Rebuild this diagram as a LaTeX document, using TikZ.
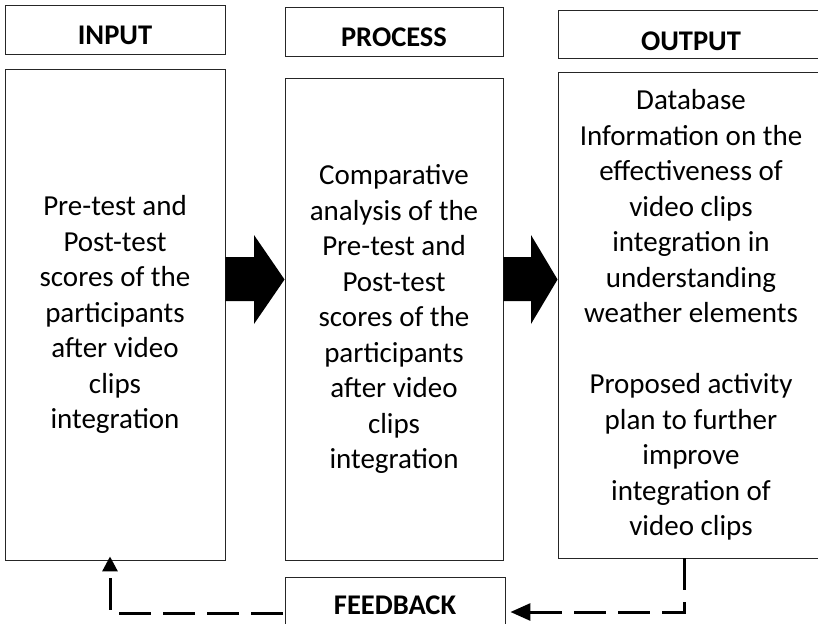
\documentclass[tikz,border=0pt]{standalone}
\usepackage{fontspec}
\setmainfont{Carlito}
\usetikzlibrary{arrows.meta,calc}
\begin{document}
\begin{tikzpicture}[x=1pt,y=-1pt,
  box/.style={draw=black!85, line width=0.9pt, inner sep=0pt, align=center,
              font=\fontsize{29}{35.5}\selectfont},
  hdr/.style={font=\bfseries\fontsize{28.5}{34}\selectfont, inner sep=0pt},
  fb/.style={line width=3pt, dash pattern=on 32pt off 12pt},
  blockarrow/.style={fill=black}]
\useasboundingbox (0,0) rectangle (818,623);
\clip (0,0) rectangle (818,623);
% headers
\node[box, minimum width=220, minimum height=49] (inhdr) at (115,29.5) {};
\node[hdr] (inlbl) at (115,35) {INPUT};
\node[box, minimum width=218, minimum height=49] (prhdr) at (394,31.5) {};
\node[hdr] (prlbl) at (394,37.5) {PROCESS};
\node[box, minimum width=266, minimum height=48] (outhdr) at (691,34) {};
\node[hdr] (outlbl) at (691,41) {OUTPUT};
% main boxes
\node[box, minimum width=220, minimum height=491] (inmain) at (115,314.5)
  {Pre-test and\\Post-test\\scores of the\\participants\\after video\\clips\\integration};
\node[box, minimum width=218, minimum height=482] (prmain) at (394,319)
  {Comparative\\analysis of the\\Pre-test and\\Post-test\\scores of the\\participants\\after video\\clips\\integration};
\node[box, minimum width=266, minimum height=486] (outmain) at (691,315)
  {Database\\Information on the\\effectiveness of\\video clips\\integration in\\understanding\\weather elements\\[35.5pt]Proposed activity\\plan to further\\improve\\integration of\\video clips};
% feedback
\node[box, minimum width=220, minimum height=60] (fbbox) at (395,607) {};
\node[hdr] (fblbl) at (395,605) {FEEDBACK};
% block arrows
\fill[blockarrow] (inmain.east |- 0,257) -- (254,257) -- (254,235) -- (prmain.west |- 0,279.5)
  -- (254,324) -- (254,301) -- (inmain.east |- 0,301) -- cycle;
\fill[blockarrow] (prmain.east |- 0,257) -- (531,257) -- (531,235) -- (outmain.west |- 0,279.5)
  -- (531,324) -- (531,301) -- (prmain.east |- 0,301) -- cycle;
% feedback loop
\coordinate (fbR) at (684,612);
\coordinate (fbL) at (110,613);
\draw[fb, -{Triangle[length=20pt,width=17pt]}, shorten >=5pt]
  (outmain.south -| fbR) |- (fbbox.east |- fbR);
\draw[fb, -{Triangle[length=15pt,width=15pt]}, shorten >=-4pt]
  ([xshift=-2pt]fbbox.west |- fbL) -| (inmain.south -| fbL);
\end{tikzpicture}
\end{document}
